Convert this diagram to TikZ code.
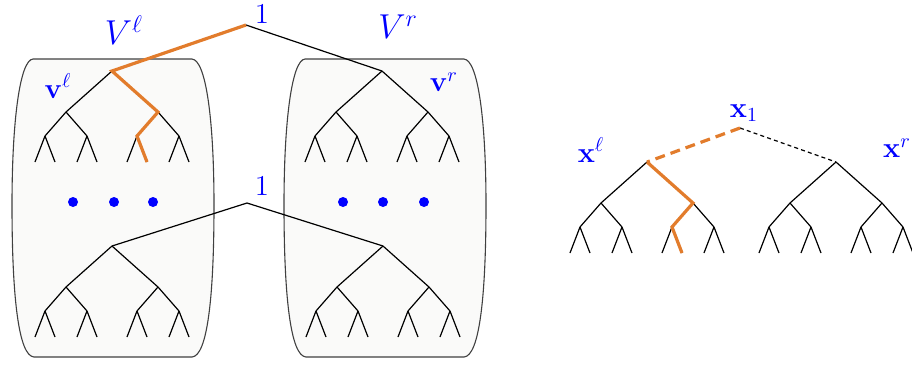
\documentclass[tikz,border=0pt]{standalone}
\usepackage{amsmath,amssymb}
\usepackage{tikz}
\usetikzlibrary{
  positioning,
  calc
}
\usepackage{xcolor}
\usepackage{bm}
\definecolor{pathorange}{RGB}{226,124,44}
\definecolor{boxfill}{RGB}{250,250,249}
\newcommand{\vect}[1]{\mathbf{#1}}
% full binary subtree of depth 3 below a named root
\newcommand{\subtree}[2]{%
  \draw[tree] (#2) node[coordinate] (#1) {}
    child {child {child child} child {child child}}
    child {child {child child} child {child child}};
}

\begin{document}
\begin{tikzpicture}[
  x=0.5pt, y=-0.5pt,
  tree/.style={line width=0.6pt,
    level 1/.style={level distance=20.5pt, sibling distance=46pt},
    level 2/.style={level distance=12pt, sibling distance=21pt},
    level 3/.style={level distance=13pt, sibling distance=10pt}},
  edge/.style={line width=0.6pt},
  hot/.style={draw=pathorange, line width=1.6pt},
  hotdash/.style={draw=pathorange, line width=1.6pt, dash pattern=on 5pt off 3pt},
  thindash/.style={line width=0.6pt, dash pattern=on 2pt off 1.6pt},
  box/.style={draw=black!75, line width=0.55pt, fill=boxfill},
  lbl/.style={text=blue, inner sep=0pt},
  dot/.style={circle, fill=blue, inner sep=0pt, minimum size=5pt}
]
  \useasboundingbox (0,0) rectangle (912,366);

  % Containers
  \foreach \bx in {0,272} {
    \draw[box] ({33+\bx},59) -- ({192+\bx},59)
      .. controls ({206+\bx},60) and ({214+\bx},120) .. ({214+\bx},205)
      .. controls ({214+\bx},300) and ({207+\bx},356) .. ({192+\bx},357)
      -- ({34+\bx},357)
      .. controls ({19+\bx},356) and ({12+\bx},300) .. ({12+\bx},205)
      .. controls ({12+\bx},120) and ({20+\bx},60) .. ({33+\bx},59);
  }

  % Left figure: top tree
  \coordinate (top) at (246,25);
  \subtree{vl}{112,71}
  \subtree{vr}{382,71}
  \draw[edge] (top) -- (vr);
  \draw[hot] (top) -- (vl) -- (vl-2) -- (vl-2-1) -- (vl-2-1-2);

  % Left figure: bottom tree
  \coordinate (bot) at (247,203);
  \subtree{bl}{112,246}
  \subtree{br}{383,246}
  \draw[edge] (bl) -- (bot) -- (br);

  % Dots
  \foreach \i/\x in {1/73, 2/114, 3/153, 4/343, 5/383, 6/424} {
    \node[dot] (dot\i) at (\x,202) {};
  }

  % Labels
  \node[lbl, font=\Large] (onetop) at (262,14) {$1$};
  \node[lbl, font=\Large] (onebot) at (262,186) {$1$};
  \node[lbl, font=\LARGE] (Vl) at (124,30) {$V^{\ell}$};
  \node[lbl, font=\LARGE] (Vr) at (398,27) {$V^{r}$};
  \node[lbl, font=\Large] (vlabl) at (58,86) {$\vect{v}^{\ell}$};
  \node[lbl, font=\Large] (vlabr) at (444,82) {$\vect{v}^{r}$};

  % Right figure
  \coordinate (xone) at (740,128);
  \subtree{xl}{647,162}
  \subtree{xr}{836,162}
  \draw[thindash] (xone) -- (xr);
  \draw[hotdash] (xone) -- (xl);
  \draw[hot] (xl) -- (xl-2) -- (xl-2-1) -- (xl-2-1-2);
  \node[lbl, font=\Large] (xonelab) at (744,113) {$\vect{x}_1$};
  \node[lbl, font=\Large] (xllab) at (591,150) {$\vect{x}^{\ell}$};
  \node[lbl, font=\Large] (xrlab) at (897,148) {$\vect{x}^{r}$};
\end{tikzpicture}
\end{document}
